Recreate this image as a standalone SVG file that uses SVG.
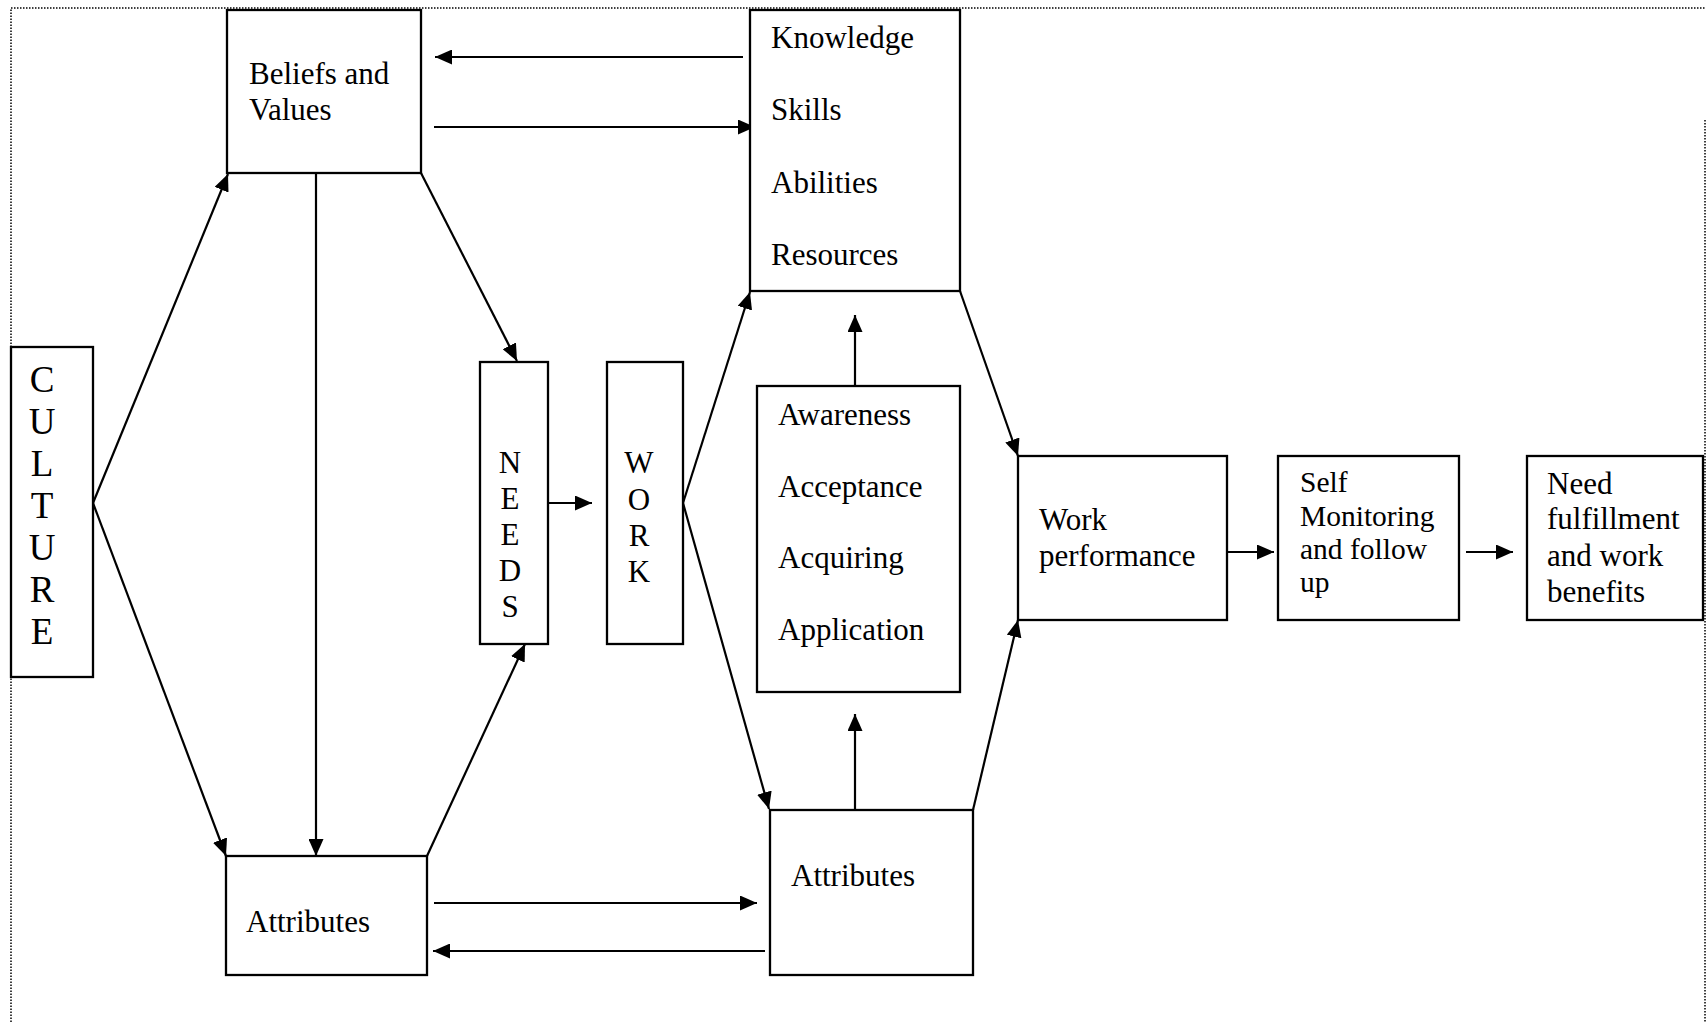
<svg xmlns="http://www.w3.org/2000/svg" width="1706" height="1022" viewBox="0 0 1706 1022">
<style>
.box{fill:#fff;stroke:#000;stroke-width:2.3}
.t{font-family:"Liberation Serif","Times New Roman",serif;font-size:31px;fill:#000}
.big{font-family:"Liberation Serif","Times New Roman",serif;font-size:37px;fill:#000;text-anchor:middle}
.mid{font-family:"Liberation Serif","Times New Roman",serif;font-size:31px;fill:#000;text-anchor:middle}
.c{stroke:#000;stroke-width:2.2;fill:none;marker-end:url(#ah)}
.border{stroke:#000;stroke-width:1.5;stroke-dasharray:1.5 1.5;fill:none}
</style>
<defs>
<marker id="ah" markerUnits="userSpaceOnUse" markerWidth="17" markerHeight="15" refX="17" refY="7.5" orient="auto">
<path d="M0,0 L17,7.5 L0,15 z" fill="#000"/>
</marker>
</defs>
<rect width="1706" height="1022" fill="#fff"/>
<g id="border">
<path class="border" d="M11,1022 L11,8 L1706,8"/>
<path class="border" d="M1705,120 L1705,1022"/>
</g>
<g id="connectors">
<line class="c" x1="743" y1="57" x2="435" y2="57"/>
<line class="c" x1="434" y1="127" x2="755" y2="127"/>
<line class="c" x1="93" y1="503" x2="228" y2="174"/>
<line class="c" x1="93" y1="503" x2="226" y2="856"/>
<line class="c" x1="316" y1="173" x2="316" y2="856"/>
<line class="c" x1="421" y1="173" x2="517" y2="361"/>
<line class="c" x1="427" y1="856" x2="525" y2="644"/>
<line class="c" x1="548" y1="503" x2="592" y2="503"/>
<line class="c" x1="683" y1="503" x2="750" y2="292"/>
<line class="c" x1="683" y1="503" x2="769" y2="809"/>
<line class="c" x1="855" y1="386" x2="855" y2="315"/>
<line class="c" x1="855" y1="810" x2="855" y2="714"/>
<line class="c" x1="960" y1="291" x2="1018" y2="456"/>
<line class="c" x1="973" y1="810" x2="1018" y2="620"/>
<line class="c" x1="1227" y1="552" x2="1274" y2="552"/>
<line class="c" x1="1466" y1="552" x2="1513" y2="552"/>
<line class="c" x1="434" y1="903" x2="757" y2="903"/>
<line class="c" x1="765" y1="951" x2="433" y2="951"/>
</g>
<g id="culture">
<rect class="box" x="11" y="347" width="82" height="330"/>
<text class="big" x="42" y="392">C</text>
<text class="big" x="42" y="434">U</text>
<text class="big" x="42" y="476">L</text>
<text class="big" x="42" y="518">T</text>
<text class="big" x="42" y="560">U</text>
<text class="big" x="42" y="602">R</text>
<text class="big" x="42" y="644">E</text>
</g>
<g id="beliefs">
<rect class="box" x="227" y="10" width="194" height="163"/>
<text class="t" x="249" y="84">Beliefs and</text>
<text class="t" x="249" y="120">Values</text>
</g>
<g id="attributes-left">
<rect class="box" x="226" y="856" width="201" height="119"/>
<text class="t" x="246" y="932">Attributes</text>
</g>
<g id="needs">
<rect class="box" x="480" y="362" width="68" height="282"/>
<text class="mid" x="510" y="473">N</text>
<text class="mid" x="510" y="509">E</text>
<text class="mid" x="510" y="545">E</text>
<text class="mid" x="510" y="581">D</text>
<text class="mid" x="510" y="617">S</text>
</g>
<g id="work">
<rect class="box" x="607" y="362" width="76" height="282"/>
<text class="mid" x="639" y="473">W</text>
<text class="mid" x="639" y="510">O</text>
<text class="mid" x="639" y="546">R</text>
<text class="mid" x="639" y="582">K</text>
</g>
<g id="ksa">
<rect class="box" x="750" y="10" width="210" height="281"/>
<text class="t" x="771" y="48">Knowledge</text>
<text class="t" x="771" y="120">Skills</text>
<text class="t" x="771" y="193">Abilities</text>
<text class="t" x="771" y="265">Resources</text>
</g>
<g id="awareness">
<rect class="box" x="757" y="386" width="203" height="306"/>
<text class="t" x="778" y="425">Awareness</text>
<text class="t" x="778" y="497">Acceptance</text>
<text class="t" x="778" y="568">Acquiring</text>
<text class="t" x="778" y="640">Application</text>
</g>
<g id="attributes-right">
<rect class="box" x="770" y="810" width="203" height="165"/>
<text class="t" x="791" y="886">Attributes</text>
</g>
<g id="work-performance">
<rect class="box" x="1018" y="456" width="209" height="164"/>
<text class="t" x="1039" y="530">Work</text>
<text class="t" x="1039" y="566">performance</text>
</g>
<g id="self-monitoring">
<rect class="box" x="1278" y="456" width="181" height="164"/>
<text class="t" x="1300" y="492" style="font-size:29.5px">Self</text>
<text class="t" x="1300" y="526" style="font-size:29.5px">Monitoring</text>
<text class="t" x="1300" y="559" style="font-size:29.5px">and follow</text>
<text class="t" x="1300" y="592" style="font-size:29.5px">up</text>
</g>
<g id="need-fulfillment">
<rect class="box" x="1527" y="456" width="176" height="164"/>
<text class="t" x="1547" y="494">Need</text>
<text class="t" x="1547" y="529">fulfillment</text>
<text class="t" x="1547" y="566">and work</text>
<text class="t" x="1547" y="602">benefits</text>
</g>
</svg>
